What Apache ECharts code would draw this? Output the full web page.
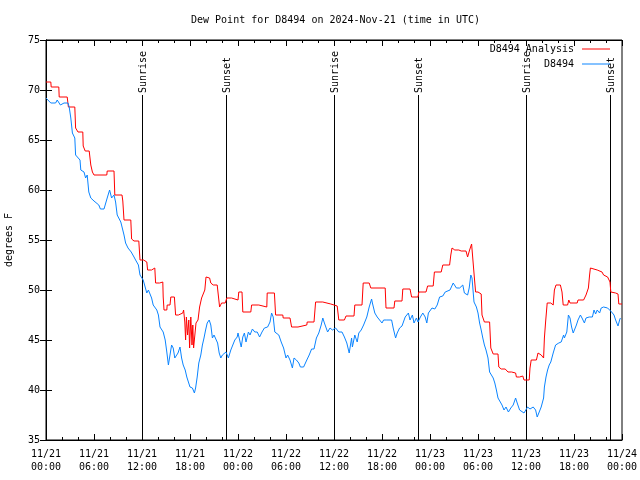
<!DOCTYPE html>
<html><head><meta charset="utf-8">
<script src="https://cdn.jsdelivr.net/npm/echarts@6/dist/echarts.min.js"></script>
<style>html,body{margin:0;padding:0;background:#fff}#c{width:640px;height:480px}</style>
</head><body><div id="c"></div>
<script>
const titleText = 'Dew Point for D8494 on 2024-Nov-21 (time in UTC)';
const yAxisName = 'degrees F';
const seriesNames = ['D8494 Analysis', 'D8494'];
const xTickLabels = ['11/21\n00:00','11/21\n06:00','11/21\n12:00','11/21\n18:00','11/22\n00:00','11/22\n06:00','11/22\n12:00','11/22\n18:00','11/23\n00:00','11/23\n06:00','11/23\n12:00','11/23\n18:00','11/24\n00:00'];
const sunHours = [12.0, 22.5, 36.0, 46.5, 60.0, 70.45];
const sunLabels = ['Sunrise','Sunset','Sunrise','Sunset','Sunrise','Sunset'];
// hours since 11/21 00:00 UTC, degrees F
const analysisData = [
[0,70.8],[0.6,70.8],[0.65,70.3],[1.6,70.3],[1.65,69.3],[2.65,69.3],[2.8,68.3],[3.6,68.3],[3.7,66.2],[4.0,65.8],[4.6,65.8],[4.65,64.4],[4.85,64.4],[4.9,63.9],[5.4,63.9],[5.6,62.5],[5.8,61.8],[6.0,61.5],[7.6,61.5],[7.65,61.9],[8.5,61.9],[8.6,59.5],[9.5,59.5],[9.6,58.9],[9.75,57.0],[10.6,57.0],[10.7,55.1],[11.0,54.9],[11.6,54.9],[11.75,53.0],[12.2,53.0],[12.25,52.8],[12.6,52.8],[12.7,52.0],[13.2,52.0],[13.25,52.2],[13.6,52.2],[13.7,50.7],[14.2,50.7],[14.25,50.8],[14.6,50.8],[14.65,49.3],[14.75,48.0],[15.1,48.0],[15.15,48.5],[15.5,48.5],[15.6,49.3],[16.05,49.3],[16.2,47.5],[16.55,47.5],[16.7,47.7],[17.1,47.7],[17.2,48.0],[17.35,46.8],[17.45,45.0],[17.55,47.3],[17.7,45.5],[17.85,47.0],[17.95,44.2],[18.1,47.3],[18.25,44.5],[18.35,46.5],[18.45,44.2],[18.6,44.2],[18.75,46.7],[19.0,47.0],[19.2,48.3],[19.45,49.2],[19.7,49.2],[19.85,50.0],[20.0,51.3],[20.45,51.2],[20.6,50.7],[20.9,50.5],[21.4,50.5],[21.5,50.7],[21.7,48.3],[21.95,48.7],[22.4,48.7],[22.6,49.2],[23.2,49.2],[23.3,49.0],[24.0,49.0],[24.1,49.8],[24.5,49.8],[24.6,47.8],[25.6,47.8],[25.7,48.5],[26.6,48.5],[26.7,48.3],[27.6,48.3],[27.65,49.7],[28.55,49.7],[28.7,47.5],[29.6,47.5],[29.65,47.2],[30.5,47.2],[30.7,46.3],[31.5,46.3],[31.7,46.5],[32.6,46.5],[32.65,46.8],[33.5,46.8],[33.7,48.8],[34.6,48.8],[34.65,48.6],[35.6,48.6],[35.7,48.4],[36.4,48.4],[36.6,47.0],[37.3,47.0],[37.5,47.4],[38.5,47.4],[38.6,48.5],[39.5,48.5],[39.65,50.7],[40.4,50.7],[40.6,50.2],[42.4,50.2],[42.5,48.2],[43.5,48.2],[43.6,48.9],[44.5,48.9],[44.6,50.1],[45.5,50.1],[45.7,49.3],[46.5,49.3],[46.6,49.8],[47.5,49.8],[47.7,50.4],[48.4,50.4],[48.55,51.8],[49.4,51.8],[49.6,52.5],[50.45,52.5],[50.6,53.5],[50.75,54.2],[51.0,54.2],[51.1,54.0],[51.6,54.0],[51.7,54.1],[51.9,53.9],[52.5,53.9],[52.7,53.3],[52.95,54.0],[53.2,54.6],[53.4,54.6],[53.55,51.2],[53.7,49.8],[54.0,49.8],[54.2,49.6],[54.4,49.6],[54.5,47.5],[54.8,46.8],[55.45,46.8],[55.6,44.2],[55.9,43.6],[56.5,43.6],[56.6,42.3],[56.9,42.1],[57.4,42.1],[57.75,41.8],[58.2,41.8],[58.4,41.7],[58.7,41.7],[58.8,41.3],[59.2,41.3],[59.4,41.4],[59.6,41.4],[59.75,41.0],[60.4,41.0],[60.5,42.2],[60.65,43.0],[61.3,43.0],[61.5,43.7],[61.9,43.5],[62.2,43.2],[62.3,45.2],[62.45,46.8],[62.65,48.7],[63.1,48.7],[63.2,48.5],[63.4,48.5],[63.55,50.0],[63.75,50.5],[64.3,50.5],[64.5,49.8],[64.65,48.5],[65.2,48.5],[65.35,49.0],[65.5,48.7],[66.4,48.7],[66.5,49.0],[67.2,49.0],[67.5,49.5],[67.8,50.2],[67.95,51.5],[68.05,52.2],[68.3,52.0],[68.9,52.0],[69.1,51.9],[69.5,51.8],[69.7,51.5],[69.9,51.3],[70.2,51.3],[70.4,51.2],[70.5,50.8],[70.6,49.8],[71.2,49.7],[71.5,49.6],[71.6,48.6],[72.0,48.6]
];
const stationData = [
[0,69.2],[0.6,68.7],[1.2,68.7],[1.4,69.0],[1.8,68.5],[2.0,68.5],[2.25,68.7],[2.75,68.7],[2.9,68.3],[3.1,67.2],[3.3,65.7],[3.6,65.2],[3.7,63.5],[4.25,63.0],[4.35,62.0],[4.75,61.8],[4.95,61.2],[5.15,61.5],[5.35,59.8],[5.6,59.2],[6.0,58.9],[6.6,58.5],[6.8,58.1],[7.25,58.1],[7.45,58.3],[7.65,59.2],[7.95,60.0],[8.1,60.2],[8.2,59.2],[8.5,59.5],[8.7,58.8],[8.9,57.5],[9.35,56.8],[9.75,55.5],[9.95,54.7],[10.25,54.2],[10.5,54.3],[10.65,53.8],[11.0,53.3],[11.2,53.0],[11.55,52.5],[11.75,51.5],[11.95,51.5],[12.15,51.0],[12.4,50.8],[12.6,49.7],[12.8,50.0],[13.0,49.8],[13.2,49.2],[13.4,48.5],[13.6,48.5],[13.85,48.0],[14.05,47.5],[14.25,46.3],[14.45,46.5],[14.65,45.8],[14.9,45.0],[15.1,43.8],[15.3,42.5],[15.5,42.5],[15.7,44.5],[15.9,44.2],[16.1,43.2],[16.3,43.0],[16.5,43.7],[16.75,44.3],[16.95,43.2],[17.15,42.5],[17.4,42.0],[17.6,41.3],[17.8,40.8],[18.0,40.3],[18.3,40.2],[18.55,39.7],[18.7,40.2],[18.9,41.3],[19.1,42.7],[19.35,43.5],[19.55,44.5],[19.75,45.2],[19.95,46.0],[20.15,46.7],[20.4,47.0],[20.6,46.5],[20.8,45.2],[21.0,45.5],[21.25,45.5],[21.45,44.7],[21.65,43.7],[21.85,43.2],[22.05,43.5],[22.25,43.3],[22.5,43.8],[22.8,43.2],[23.1,44.0],[23.35,44.5],[23.6,45.0],[23.9,45.3],[24.0,45.7],[24.2,45.8],[24.4,44.3],[24.6,45.3],[24.8,45.7],[25.0,44.8],[25.3,45.8],[25.5,45.5],[25.8,46.1],[26.1,45.8],[26.4,45.8],[26.7,45.3],[27.0,45.8],[27.3,46.2],[27.7,46.3],[28.0,46.8],[28.2,47.7],[28.4,47.3],[28.6,45.8],[28.8,45.7],[29.1,45.5],[29.4,44.8],[29.7,44.2],[30.0,43.2],[30.2,43.5],[30.5,43.0],[30.8,42.2],[31.0,43.2],[31.3,43.0],[31.6,42.7],[31.8,42.3],[32.2,42.3],[32.6,43.0],[32.9,43.5],[33.2,44.1],[33.5,44.1],[33.8,45.2],[34.1,45.7],[34.4,46.5],[34.6,47.2],[34.8,46.7],[35.2,45.8],[35.5,46.2],[35.8,46.0],[36.2,46.2],[36.6,45.8],[37.0,45.8],[37.3,45.3],[37.6,44.7],[37.9,43.7],[38.2,45.2],[38.3,44.3],[38.6,45.5],[38.9,44.8],[39.1,45.7],[39.4,46.0],[39.7,46.5],[39.9,46.3],[40.1,47.3],[40.4,48.3],[40.7,49.1],[40.8,48.7],[41.1,47.7],[41.4,47.3],[41.7,47.0],[42.0,46.7],[42.2,47.0],[42.6,47.0],[43.2,47.0],[43.4,46.2],[43.7,45.2],[43.9,45.7],[44.2,46.2],[44.5,46.4],[44.7,46.2],[44.9,47.3],[45.3,47.7],[45.5,47.0],[45.8,47.5],[46.0,46.7],[46.3,47.2],[46.5,46.8],[46.8,47.3],[47.1,47.7],[47.4,47.3],[47.6,46.7],[47.8,47.7],[47.95,47.8],[48.25,48.2],[48.6,48.1],[48.9,48.5],[49.2,49.3],[49.6,49.4],[49.9,49.8],[50.5,50.0],[50.9,50.7],[51.3,50.2],[51.7,50.2],[52.1,50.5],[52.3,49.7],[52.7,49.5],[52.9,50.2],[53.1,51.5],[53.25,51.2],[53.5,48.8],[53.8,48.3],[54.0,47.7],[54.2,46.7],[54.4,46.0],[54.6,45.2],[54.8,44.5],[55.0,44.0],[55.25,43.2],[55.45,41.8],[55.9,41.2],[56.1,40.7],[56.3,40.0],[56.5,39.2],[56.7,39.0],[57.0,38.5],[57.25,38.0],[57.5,38.3],[57.8,37.8],[58.1,38.2],[58.4,38.5],[58.7,39.2],[58.9,38.7],[59.2,38.0],[59.4,38.2],[59.75,37.7],[60.2,38.3],[60.5,38.1],[60.9,38.3],[61.2,38.0],[61.4,37.3],[61.6,37.7],[61.9,38.3],[62.2,39.2],[62.3,40.3],[62.5,41.3],[62.7,42.0],[62.9,42.5],[63.1,42.8],[63.4,43.7],[63.7,44.5],[64.1,44.7],[64.4,44.8],[64.7,45.5],[64.8,45.2],[65.1,45.8],[65.3,47.5],[65.5,47.2],[65.7,46.3],[65.9,45.7],[66.1,45.8],[66.3,46.5],[66.5,47.0],[66.8,47.5],[67.0,47.2],[67.3,46.7],[67.5,47.2],[67.9,47.3],[68.3,47.3],[68.5,48.0],[68.7,47.6],[68.9,48.0],[69.2,47.7],[69.4,48.2],[69.7,48.3],[69.9,48.2],[70.2,48.2],[70.4,48.3],[70.7,47.8],[71.0,47.5],[71.2,47.0],[71.5,46.4],[71.7,47.0],[71.8,47.2]
];

const FONT = 'DejaVu Sans Mono';
const chart = echarts.init(document.getElementById('c'), null, {renderer: 'canvas'});
const tickStyle = {show: true, inside: true, length: 6, lineStyle: {color: '#000', width: 1}};
const minorStyle = {show: true, splitNumber: 3, length: 3, lineStyle: {color: '#000', width: 1}};
const legendCommon = {orient: 'vertical', align: 'right', icon: 'rect', itemWidth: 28, itemHeight: 1, itemGap: 0, padding: 0,
  textStyle: {fontFamily: FONT, fontSize: 10, color: '#000', padding: [0, 3, 0, 0]}};
chart.setOption({
  animation: false,
  backgroundColor: '#fff',
  textStyle: {fontFamily: FONT, fontSize: 10, color: '#000'},
  title: {text: titleText, left: 186, top: 10, textStyle: {fontFamily: FONT, fontSize: 10, fontWeight: 'normal', color: '#000'}},
  legend: [
    Object.assign({data: [seriesNames[0]], right: 30, top: 44}, legendCommon),
    Object.assign({data: [seriesNames[1]], right: 30, top: 59}, legendCommon)
  ],
  grid: {left: 46, right: 18, top: 40, bottom: 40, show: true, borderColor: '#000', borderWidth: 1, containLabel: false, outerBoundsMode: 'none'},
  xAxis: [
    {type: 'value', min: 0, max: 72, interval: 6, position: 'bottom',
     axisLine: {show: true, lineStyle: {color: '#000'}}, axisTick: tickStyle, minorTick: minorStyle, splitLine: {show: false},
     axisLabel: {show: true, margin: 8, color: '#000', fontFamily: FONT, fontSize: 10, lineHeight: 13, formatter: v => xTickLabels[Math.round(v / 6)] || ''}},
    {type: 'value', min: 0, max: 72, interval: 6, position: 'top',
     axisLine: {show: true, lineStyle: {color: '#000'}}, axisTick: tickStyle, minorTick: minorStyle, splitLine: {show: false}, axisLabel: {show: false}}
  ],
  yAxis: [
    {type: 'value', min: 35, max: 75, interval: 5, position: 'left', name: yAxisName, nameLocation: 'middle', nameGap: 32, nameRotate: 90,
     nameTextStyle: {fontFamily: FONT, fontSize: 10, color: '#000'},
     axisLine: {show: true, lineStyle: {color: '#000'}}, axisTick: tickStyle, splitLine: {show: false},
     axisLabel: {margin: 6, color: '#000', fontFamily: FONT, fontSize: 10}},
    {type: 'value', min: 35, max: 75, interval: 5, position: 'right',
     axisLine: {show: true, lineStyle: {color: '#000'}}, axisTick: tickStyle, splitLine: {show: false}, axisLabel: {show: false}}
  ],
  series: [
    {name: 'sun', type: 'custom', xAxisIndex: 0, yAxisIndex: 0, silent: true, z: 1,
     data: sunHours.map(h => [h, 69.5]),
     renderItem: function (params, api) {
       const top = api.coord([api.value(0), api.value(1)]);
       const bot = api.coord([api.value(0), 35]);
       return {type: 'group', children: [
         {type: 'line', shape: {x1: Math.round(top[0]) + 0.5, y1: top[1], x2: Math.round(bot[0]) + 0.5, y2: bot[1]}, style: {stroke: '#000', lineWidth: 1}},
         {type: 'text', x: Math.round(top[0]) + 1, y: top[1] - 2, rotation: Math.PI / 2,
          style: {text: sunLabels[params.dataIndex], fill: '#000', font: '10px ' + FONT, textAlign: 'left', textVerticalAlign: 'middle'}}
       ]};
     }},
    {name: seriesNames[0], type: 'line', data: analysisData, symbol: 'none', showSymbol: false, z: 3,
     lineStyle: {color: '#ff0000', width: 1}, itemStyle: {color: '#ff0000'}},
    {name: seriesNames[1], type: 'line', data: stationData, symbol: 'none', showSymbol: false, z: 4,
     lineStyle: {color: '#0a84ff', width: 1}, itemStyle: {color: '#0a84ff'}}
  ]
});
</script>
</body></html>
